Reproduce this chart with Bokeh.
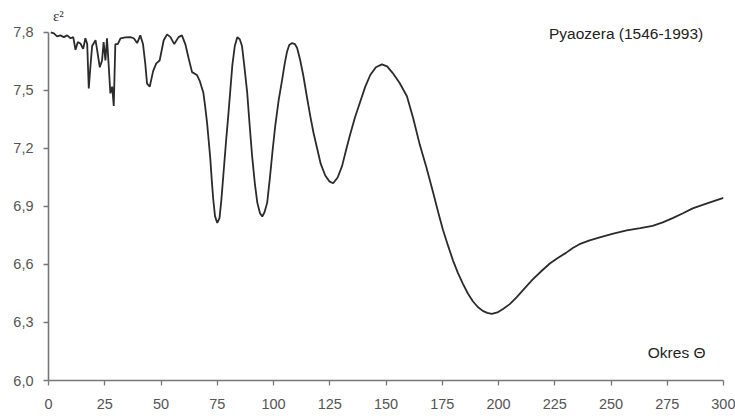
from bokeh.plotting import figure
from bokeh.models import ColumnDataSource, FixedTicker, CustomJSTickFormatter, Label, Range1d
from bokeh.embed import file_html
from bokeh.resources import INLINE

# Period (Okres Θ) and residual variance ε² for Pyaozera (1546-1993)
period = [1, 2.4, 3.8, 5.3, 6.8, 8.3, 9.8, 11, 12, 13, 14.2, 15.4, 16.4, 17.2, 17.9,
          18.6, 19.4, 20.9, 21.6, 22.8, 23.8, 24.5, 25.3, 26, 26.8, 27.5, 28.3, 29,
          29.7, 30.8, 32, 34.2, 36.4, 37.9, 39.4, 40.8, 42, 43, 43.8, 45, 46.5, 47.9,
          49.4, 51.2, 52.7, 54.2, 55.9, 57.8, 59.3, 60.8, 62.3, 63.8, 66, 67.2,
          68.8, 69.6, 70.5, 71.2, 71.9, 72.6, 73.2, 74, 75, 76, 76.8, 77.7, 79, 79.9,
          80.8, 81.7, 82.8, 83.9, 85, 86, 87, 88.3, 89.4, 90.5, 91.7, 92.8, 94, 95,
          96, 97.2, 98.5, 99.6, 100.8, 102.3, 103.9, 105, 106, 107, 108.3, 109.5,
          110.5, 111.8, 113.2, 114.8, 116.3, 117.8, 119.4, 121, 123, 124.8, 126.5,
          128.5, 130.5, 132.2, 134, 136.2, 138.5, 140.8, 143, 145.5, 148.2, 150.5,
          153, 156, 159.3, 162, 165, 168, 171, 173.2, 175.3, 177.5, 179.8, 182,
          184.2, 186.4, 188.6, 190.8, 193, 195, 197, 199.5, 202, 205, 208, 211.5,
          215, 219, 222.8, 226.5, 230, 233, 236, 240.5, 245, 251, 257, 263, 268.5,
          273, 277.4, 282, 286.3, 293, 300]

variance = [7.80, 7.795, 7.78, 7.785, 7.776, 7.785, 7.77, 7.776, 7.71, 7.75, 7.743,
            7.715, 7.77, 7.74, 7.51, 7.62, 7.73, 7.76, 7.71, 7.62, 7.655, 7.75, 7.655,
            7.77, 7.62, 7.485, 7.52, 7.42, 7.74, 7.74, 7.77, 7.775, 7.776, 7.77,
            7.745, 7.785, 7.74, 7.64, 7.535, 7.52, 7.60, 7.64, 7.655, 7.76, 7.79,
            7.776, 7.74, 7.776, 7.785, 7.74, 7.665, 7.595, 7.58, 7.55,
            7.49, 7.42, 7.33, 7.24, 7.15, 7.03, 6.94, 6.85, 6.815, 6.84, 6.93, 7.06,
            7.25, 7.37, 7.50, 7.63, 7.73, 7.775, 7.765, 7.73, 7.63, 7.49, 7.32, 7.16,
            7.02, 6.92, 6.865, 6.848, 6.87, 6.92, 7.06, 7.19, 7.32, 7.45, 7.56, 7.64,
            7.70, 7.735, 7.745, 7.74, 7.72, 7.66, 7.58, 7.47, 7.37, 7.28, 7.20, 7.12,
            7.06, 7.03, 7.02, 7.05, 7.11, 7.19, 7.27, 7.36, 7.44, 7.52, 7.58, 7.62,
            7.635, 7.625, 7.59, 7.54, 7.47, 7.36, 7.22, 7.10, 6.97, 6.87, 6.78, 6.70,
            6.62, 6.555, 6.50, 6.45, 6.41, 6.38, 6.36, 6.35, 6.345, 6.352, 6.37, 6.395,
            6.43, 6.475, 6.52, 6.565, 6.605, 6.635, 6.66, 6.685, 6.705, 6.725, 6.74,
            6.76, 6.776, 6.788, 6.80, 6.818, 6.84, 6.865, 6.89, 6.917, 6.945]

x_ticks = [0, 25, 50, 75, 100, 125, 150, 175, 200, 225, 250, 275, 300]
y_ticks = [6.0, 6.3, 6.6, 6.9, 7.2, 7.5, 7.8]

source = ColumnDataSource(data=dict(period=period, variance=variance))

# the frame reaches above 7.8 so the headings have room; the y axis line stops at 7.8
p = figure(width=735, height=416, output_backend="svg", toolbar_location=None,
           x_range=Range1d(0, 300), y_range=Range1d(6.0, 7.955),
           min_border_left=48, min_border_right=12, min_border_top=2,
           min_border_bottom=36)
p.outline_line_color = None
p.xgrid.visible = False
p.ygrid.visible = False
p.background_fill_color = "white"
p.border_fill_color = "white"

p.line("period", "variance", source=source, line_color="#2b2b2b", line_width=1.8)

axis_color = "#777777"
label_color = "#555555"
font = "Liberation Sans"

for ax in (p.xaxis[0], p.yaxis[0]):
    ax.axis_line_color = axis_color
    ax.axis_line_width = 1.6
    ax.major_tick_line_color = axis_color
    ax.major_tick_line_width = 1.3
    ax.major_tick_in = 0
    ax.major_tick_out = 5
    ax.minor_tick_line_color = None
    ax.major_label_text_color = label_color
    ax.major_label_text_font = font
    ax.major_label_text_font_size = "14.5px"

p.xaxis.ticker = FixedTicker(ticks=x_ticks)
p.yaxis.ticker = FixedTicker(ticks=y_ticks)
p.yaxis.bounds = (6.0, 7.8)
p.yaxis.formatter = CustomJSTickFormatter(code="return tick.toFixed(1).replace('.', ',');")
p.xaxis.major_label_standoff = 13
p.yaxis.major_label_standoff = 10

p.add_layout(Label(x=2.0, y=7.885, text="ε²", text_font="Liberation Serif",
                   text_font_size="15px", text_color="#333333",
                   text_baseline="middle", text_align="left"))
p.add_layout(Label(x=291, y=7.795, text="Pyaozera (1546-1993)", text_font=font,
                   text_font_size="15.5px", text_color="#222222",
                   text_baseline="middle", text_align="right"))
p.add_layout(Label(x=292, y=6.145, text="Okres Θ", text_font=font,
                   text_font_size="15.5px", text_color="#222222",
                   text_baseline="middle", text_align="right"))

open("out.html", "w").write(file_html(p, INLINE))
